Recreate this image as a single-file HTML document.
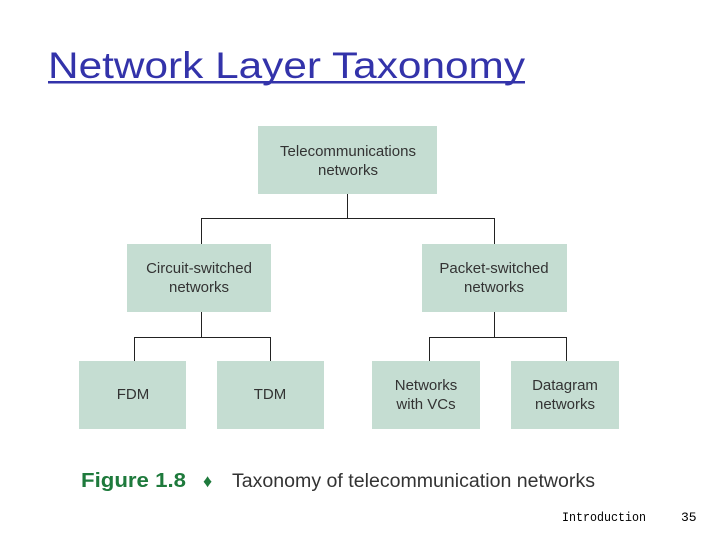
<!DOCTYPE html>
<html><head><meta charset="utf-8"><style>
html,body{margin:0;padding:0;background:#fff;width:720px;height:540px;overflow:hidden}
</style></head><body>
<svg width="720" height="540" xmlns="http://www.w3.org/2000/svg" font-family="Liberation Sans, sans-serif">
<text x="48" y="78" font-size="37" fill="#3333aa" textLength="477" lengthAdjust="spacingAndGlyphs">Network Layer Taxonomy</text>
<rect x="48" y="81" width="477" height="2.5" fill="#3333aa"/>
<g fill="#c5ddd2">
<rect x="258" y="126" width="179" height="68"/>
<rect x="127" y="244" width="144" height="68"/>
<rect x="422" y="244" width="145" height="68"/>
<rect x="79" y="361" width="107" height="68"/>
<rect x="217" y="361" width="107" height="68"/>
<rect x="372" y="361" width="108" height="68"/>
<rect x="511" y="361" width="108" height="68"/>
</g>
<g stroke="#222" stroke-width="1" fill="none">
<path d="M347.5 194V218.5M201.5 244V218.5H494.5V244"/>
<path d="M201.5 312V337.5M134.5 361V337.5H270.5V361"/>
<path d="M494.5 312V337.5M429.5 361V337.5H566.5V361"/>
</g>
<g font-size="15" fill="#333" text-anchor="middle">
<text x="348" y="156">Telecommunications</text>
<text x="348" y="175">networks</text>
<text x="199" y="273">Circuit-switched</text>
<text x="199" y="292">networks</text>
<text x="494" y="273">Packet-switched</text>
<text x="494" y="292">networks</text>
<text x="133" y="399">FDM</text>
<text x="270" y="399">TDM</text>
<text x="426" y="390">Networks</text>
<text x="426" y="409">with VCs</text>
<text x="565" y="390">Datagram</text>
<text x="565" y="409">networks</text>
</g>
<text x="81" y="487" font-size="20" font-weight="bold" fill="#1e7a3c" textLength="105" lengthAdjust="spacingAndGlyphs">Figure 1.8</text>
<text x="203" y="487" font-size="18" fill="#1e7a3c">♦</text>
<text x="232" y="487" font-size="19" fill="#333" textLength="363" lengthAdjust="spacingAndGlyphs">Taxonomy of telecommunication networks</text>
<text x="562" y="521" font-size="13" fill="#000" font-family="Liberation Mono, monospace" textLength="84" lengthAdjust="spacingAndGlyphs">Introduction</text>
<text x="681" y="521" font-size="13" fill="#000" font-family="Liberation Mono, monospace">35</text>
</svg>
</body></html>
